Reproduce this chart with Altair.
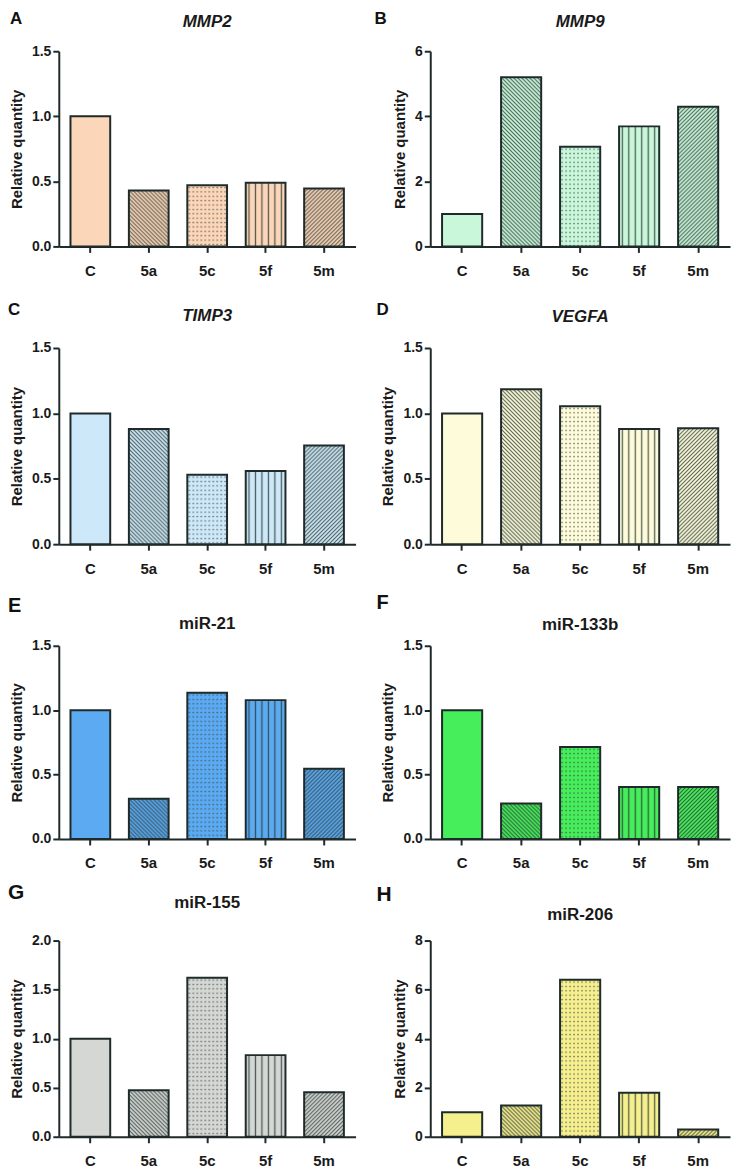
import base64
import altair as alt
import pandas as pd

# ---------------- data ----------------
groups = ["C", "5a", "5c", "5f", "5m"]
letters = ["A", "B", "C", "D", "E", "F", "G", "H"]
titles = ["MMP2", "MMP9", "TIMP3", "VEGFA", "miR-21", "miR-133b", "miR-155", "miR-206"]
italic = [True, True, True, True, False, False, False, False]

mmp2 = [1.00, 0.43, 0.47, 0.49, 0.445]
mmp9 = [1.00, 5.20, 3.06, 3.69, 4.29]
timp3 = [1.00, 0.88, 0.53, 0.56, 0.755]
vegfa = [1.00, 1.185, 1.055, 0.88, 0.887]
mir21 = [1.00, 0.313, 1.135, 1.078, 0.545]
mir133b = [1.00, 0.276, 0.714, 0.403, 0.403]
mir155 = [1.00, 0.474, 1.62, 0.832, 0.453]
mir206 = [1.00, 1.27, 6.40, 1.79, 0.30]
series = [mmp2, mmp9, timp3, vegfa, mir21, mir133b, mir155, mir206]

y_max = [1.5, 6, 1.5, 1.5, 1.5, 1.5, 2.0, 8]
y_ticks = [
    [0, 0.5, 1.0, 1.5],
    [0, 2, 4, 6],
    [0, 0.5, 1.0, 1.5],
    [0, 0.5, 1.0, 1.5],
    [0, 0.5, 1.0, 1.5],
    [0, 0.5, 1.0, 1.5],
    [0, 0.5, 1.0, 1.5, 2.0],
    [0, 2, 4, 6, 8],
]
y_format = [".1f", "d", ".1f", ".1f", ".1f", ".1f", ".1f", "d"]

# ---------------- styles ----------------
fills = ["#FCD6B8", "#C9F7DA", "#CDE8F8", "#FDFBD9", "#5BAAF2", "#45EE5A", "#D4D7D4", "#F6EF8E"]
DARK = "#1f2b2b"
FONT = "Liberation Sans"

pattern_of = {"5a": "back", "5c": "dots", "5f": "vert", "5m": "fwd"}

widths = [298, 301] * 4
heights = [196, 196, 197, 197, 194, 194, 197, 197]
letter_dx = [-49, -56, -51, -54, -51, -54, -51, -54]
letter_dy = [-40, -40, -46, -46, -50, -53, -59, -57]
letter_size = [17, 17, 17, 17, 20, 20, 21, 21]
title_dy = [-37, -37, -40, -39, -30, -29, -46, -34]


def pattern_url(kind):
    line = 'stroke="#2c3a35" stroke-opacity="0.8"'
    if kind == "back":
        w, h = 4, 4
        body = f'<path d="M0,0L4,4M-1,3L1,5M3,-1L5,1" {line} stroke-width="1.1"/>'
    elif kind == "fwd":
        w, h = 4, 4
        body = f'<path d="M0,4L4,0M-1,1L1,-1M3,5L5,3" {line} stroke-width="1.1"/>'
    elif kind == "dots":
        w, h = 4, 4.4
        body = '<rect x="1.4" y="1.6" width="1.3" height="1.3" fill="#3a4444" fill-opacity="0.85"/>'
    else:
        w, h = 6.5, 4
        body = f'<path d="M3.25,0V4" {line} stroke-width="1.3"/>'
    svg = (
        '<svg xmlns="http://www.w3.org/2000/svg" width="100%" height="100%">'
        f'<defs><pattern id="p" patternUnits="userSpaceOnUse" width="{w}" height="{h}">{body}</pattern></defs>'
        '<rect width="100%" height="100%" fill="url(#p)"/></svg>'
    )
    return "data:image/svg+xml;base64," + base64.b64encode(svg.encode()).decode()


def panel(i):
    df = pd.DataFrame({"group": groups, "value": series[i]})
    x = alt.X(
        "group:N",
        sort=groups,
        scale=alt.Scale(paddingInner=0.32, paddingOuter=0.2),
        axis=alt.Axis(title=None, labelAngle=0),
    )
    y = alt.Y(
        "value:Q",
        scale=alt.Scale(domain=[0, y_max[i]], nice=False, zero=True),
        axis=alt.Axis(title="Relative quantity", values=y_ticks[i], format=y_format[i]),
    )
    base = alt.Chart(df)
    layers = [base.mark_bar(fill=fills[i], strokeWidth=0).encode(x=x, y=y)]
    for g, kind in pattern_of.items():
        layers.append(
            base.transform_filter(alt.datum.group == g)
            .mark_image(aspect=False)
            .encode(x=x, y=y, y2=alt.datum(0), url=alt.value(pattern_url(kind)))
        )
    layers.append(
        base.mark_bar(fillOpacity=0, stroke=DARK, strokeWidth=2).encode(x=x, y=y)
    )
    # panel letter
    layers.append(
        alt.Chart(pd.DataFrame({"t": [letters[i]]}))
        .mark_text(
            align="left", baseline="top", font=FONT, fontWeight="bold",
            fontSize=letter_size[i], color="#111111",
        )
        .encode(text="t:N", x=alt.value(letter_dx[i]), y=alt.value(letter_dy[i]))
    )
    # panel title
    layers.append(
        alt.Chart(pd.DataFrame({"t": [titles[i]]}))
        .mark_text(
            align="center", baseline="top", font=FONT, fontWeight="bold",
            fontStyle="italic" if italic[i] else "normal",
            fontSize=17, color="#1a1a1a",
        )
        .encode(text="t:N", x=alt.value(widths[i] / 2), y=alt.value(title_dy[i]))
    )
    return alt.layer(*layers).properties(width=widths[i], height=heights[i])


chart = (
    alt.concat(
        *[panel(i) for i in range(8)],
        columns=2,
        spacing={"row": 102, "column": 75},
        bounds="flush",
        align="each",
    )
    .properties(padding={"left": 0, "top": 0, "right": 4, "bottom": 0})
    .configure_view(stroke=None)
    .configure_axis(
        grid=False,
        domainColor=DARK,
        domainWidth=2,
        tickColor=DARK,
        tickWidth=2,
        tickSize=6,
        labelFont=FONT,
        labelFontWeight="bold",
        labelColor="#1a1a1a",
        titleFont=FONT,
        titleFontWeight="bold",
        titleColor="#1a1a1a",
    )
    .configure_axisX(labelFontSize=15, labelPadding=11)
    .configure_axisY(labelFontSize=14, labelPadding=2, titleFontSize=15, titlePadding=7)
)

chart.save("out.html", embed_options={"renderer": "svg", "actions": False})
